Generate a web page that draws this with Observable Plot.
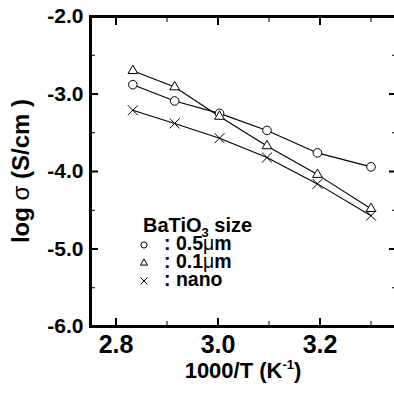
<!DOCTYPE html>
<html>
<head>
<meta charset="utf-8">
<script src="https://cdn.jsdelivr.net/npm/d3@7"></script>
<script src="https://cdn.jsdelivr.net/npm/@observablehq/plot@0.6"></script>
<style>
  html, body { margin: 0; padding: 0; background: #fff; }
  svg { display: block; }
</style>
</head>
<body>
<div id="chart"></div>
<script>
// Conductivity of BaTiO3 samples vs inverse temperature
const invT = [2.833, 2.915, 3.003, 3.096, 3.195, 3.300];           // 1000/T (K^-1)
const sizeLabels = ["0.5μm", "0.1μm", "nano"];
const sizeSymbols = ["circle", "triangle", "times"];
const logSigma05um = [-2.88, -3.09, -3.25, -3.47, -3.76, -3.94];
const logSigma01um = [-2.70, -2.91, -3.29, -3.67, -4.04, -4.48];
const logSigmaNano = [-3.21, -3.38, -3.57, -3.82, -4.16, -4.57];
const seriesValues = [logSigma05um, logSigma01um, logSigmaNano];

const xMajorTicks = [2.8, 3.0, 3.2];
const xMinorTicks = [2.9, 3.1, 3.3];
const yMajorTicks = [-6, -5, -4, -3, -2];
const yMinorTicks = [-5.5, -4.5, -3.5, -2.5];

const FONT = "'Liberation Sans', Arial, Helvetica, sans-serif";

const rows = sizeLabels.flatMap((name, s) =>
  invT.map((x, i) => ({series: name, symbol: sizeSymbols[s], x, y: seriesValues[s][i]}))
);

// marker sizes per symbol (radius as Plot understands it)
const markerR = {circle: 4.3, triangle: 3.6, times: 4.6};
const legendR = {circle: 3.1, triangle: 2.7, times: 3.2};

// inward tick marks on all four sides
function inwardTicks(ticks, size, width) {
  const common = {ticks, tickSize: size, tickFormat: () => "", label: null, strokeWidth: width, stroke: "black"};
  return [
    Plot.axisY({...common, anchor: "left", dx: size}),
    Plot.axisY({...common, anchor: "right", dx: -size})
  ];
}
function inwardTicksX(ticks, size, width) {
  const common = {ticks, tickSize: size, tickFormat: () => "", label: null, strokeWidth: width, stroke: "black"};
  return [
    Plot.axisX({...common, anchor: "bottom", dy: -size}),
    Plot.axisX({...common, anchor: "top", dy: size})
  ];
}

// axis titles and the in-plot legend
function decorations(index, scales, values, dims) {
  const {width, height, marginLeft, marginTop, marginRight, marginBottom} = dims;
  const top = marginTop, bottom = height - marginBottom;
  const left = marginLeft, right = width - marginRight;
  const g = d3.create("svg:g")
    .attr("font-family", FONT)
    .attr("font-weight", "bold")
    .attr("fill", "black");

  // y title
  const yt = g.append("text")
    .attr("transform", `translate(21,${(top + bottom) / 2}) rotate(-90)`)
    .attr("text-anchor", "middle")
    .attr("dy", "0.35em")
    .attr("font-size", 24);
  yt.append("tspan").text("log ");
  yt.append("tspan").attr("font-weight", "normal").text("σ");
  yt.append("tspan").text(" (S/cm )");

  // x title
  const xt = g.append("text")
    .attr("x", (left + right) / 2)
    .attr("y", 378)
    .attr("text-anchor", "middle")
    .attr("font-size", 22);
  xt.append("tspan").text("1000/T (K");
  xt.append("tspan").attr("font-size", 13).attr("dy", -9).text("-1");
  xt.append("tspan").attr("dy", 9).text(")");

  // legend
  const lx = left + 53, ly = top + 216;
  const lt = g.append("text").attr("x", lx).attr("y", ly)
    .attr("text-anchor", "start").attr("font-size", 20);
  lt.append("tspan").text("BaTiO");
  lt.append("tspan").attr("font-size", 13).attr("dy", 5).text("3");
  lt.append("tspan").attr("dy", -5).text(" size");

  const symbolTypes = {circle: d3.symbolCircle, triangle: d3.symbolTriangle, times: d3.symbolTimes};
  sizeLabels.forEach((name, i) => {
    const base = ly + 18 + i * 18;
    const sym = sizeSymbols[i];
    const r = legendR[sym];
    g.append("path")
      .attr("transform", `translate(${lx + 1},${base - 5})`)
      .attr("d", d3.symbol(symbolTypes[sym], Math.PI * r * r)())
      .attr("fill", sym === "times" ? "none" : "white")
      .attr("stroke", "black")
      .attr("stroke-width", 1);
    const t = g.append("text").attr("x", lx + 21).attr("y", base)
      .attr("text-anchor", "start").attr("font-size", 19.5);
    const m = name.match(/^(.*?)(μ)(m)$/);
    if (m) {
      t.append("tspan").text(": " + m[1]);
      t.append("tspan").attr("font-weight", "normal").text(m[2]);
      t.append("tspan").text(m[3]);
    } else {
      t.append("tspan").text(": " + name);
    }
  });
  return g.node();
}

const chart = Plot.plot({
  width: 394,
  height: 397,
  marginLeft: 90,
  marginRight: -2,
  marginTop: 16,
  marginBottom: 71,
  style: {fontFamily: FONT, background: "white", color: "black", overflow: "visible"},
  x: {domain: [2.75, 3.35]},
  y: {domain: [-6, -2]},
  marks: [
    // series lines
    Plot.line(rows, {x: "x", y: "y", z: "series", stroke: "black", strokeWidth: 1.1}),
    // markers
    ...sizeSymbols.map((sym) =>
      Plot.dot(rows.filter((d) => d.symbol === sym), {
        x: "x", y: "y", symbol: () => sym, r: markerR[sym],
        fill: sym === "times" ? "none" : "white", stroke: "black", strokeWidth: 1
      })
    ),
    // tick marks
    ...inwardTicks(yMajorTicks, 8, 2),
    ...inwardTicks(yMinorTicks, 5, 1),
    ...inwardTicksX(xMajorTicks, 8, 2),
    ...inwardTicksX(xMinorTicks, 5, 1),
    // tick labels
    Plot.axisY({ticks: yMajorTicks, anchor: "left", tickSize: 0, tickPadding: 7, label: null,
      tickFormat: (d) => d.toFixed(1), fontSize: 21, fontWeight: "bold"}),
    Plot.axisX({ticks: xMajorTicks, anchor: "bottom", tickSize: 0, tickPadding: 9, label: null,
      tickFormat: (d) => d.toFixed(1), fontSize: 25, fontWeight: "bold"}),
    Plot.frame({stroke: "black", strokeWidth: 3}),
    decorations
  ]
});

document.getElementById("chart").append(chart);
</script>
</body>
</html>
